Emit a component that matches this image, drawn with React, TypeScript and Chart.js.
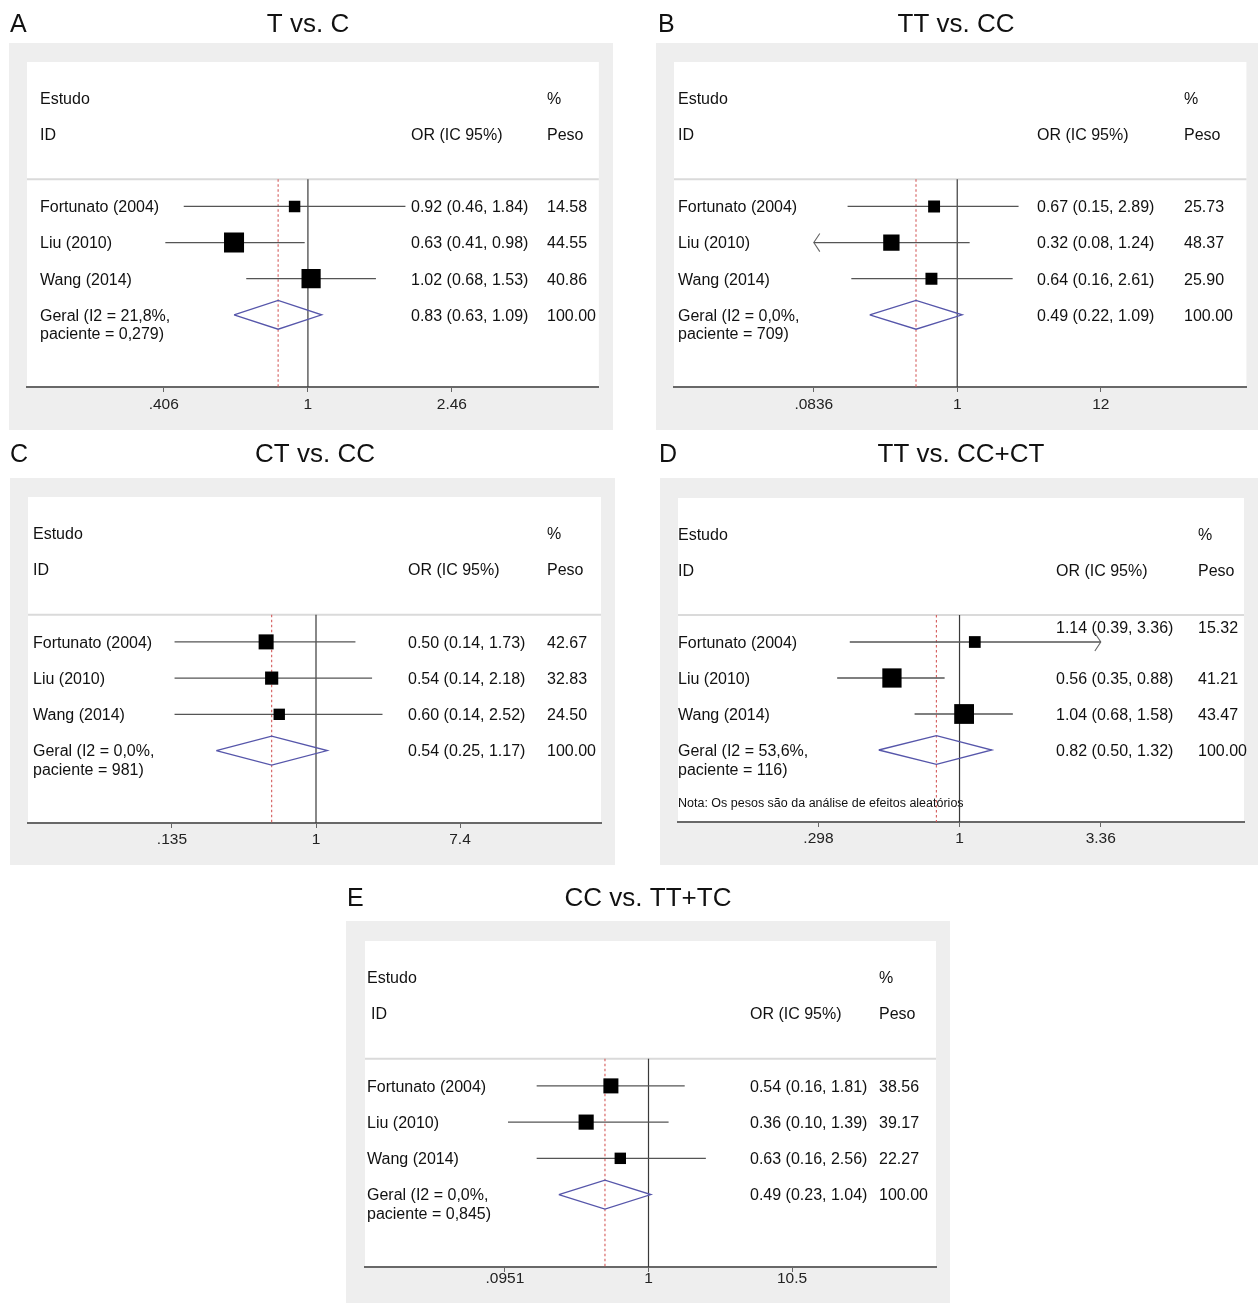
import React, { useEffect, useRef } from "react";
import { Chart, registerables } from "chart.js";

Chart.register(...registerables);

// ---------------- DATA ----------------
const STUDIES = ["Fortunato (2004)", "Liu (2010)", "Wang (2014)"];
const TOTAL_WEIGHT = 100;

// A: T vs. C
const A_OR = [0.92, 0.63, 1.02];
const A_LO = [0.46, 0.41, 0.68];
const A_HI = [1.84, 0.98, 1.53];
const A_WEIGHT = [14.58, 44.55, 40.86];
const A_POOLED = [0.83, 0.63, 1.09];
const A_HET = ["Geral (I2 = 21,8%,", "paciente = 0,279)"];
const A_TICKS = [0.406, 1, 2.46];
const A_TICK_LABELS = [".406", "1", "2.46"];

// B: TT vs. CC
const B_OR = [0.67, 0.32, 0.64];
const B_LO = [0.15, 0.08, 0.16];
const B_HI = [2.89, 1.24, 2.61];
const B_WEIGHT = [25.73, 48.37, 25.9];
const B_POOLED = [0.49, 0.22, 1.09];
const B_HET = ["Geral (I2 = 0,0%,", "paciente = 709)"];
const B_TICKS = [0.0836, 1, 12];
const B_TICK_LABELS = [".0836", "1", "12"];

// C: CT vs. CC
const C_OR = [0.5, 0.54, 0.6];
const C_LO = [0.14, 0.14, 0.14];
const C_HI = [1.73, 2.18, 2.52];
const C_WEIGHT = [42.67, 32.83, 24.5];
const C_POOLED = [0.54, 0.25, 1.17];
const C_HET = ["Geral (I2 = 0,0%,", "paciente = 981)"];
const C_TICKS = [0.135, 1, 7.4];
const C_TICK_LABELS = [".135", "1", "7.4"];

// D: TT vs. CC+CT
const D_OR = [1.14, 0.56, 1.04];
const D_LO = [0.39, 0.35, 0.68];
const D_HI = [3.36, 0.88, 1.58];
const D_WEIGHT = [15.32, 41.21, 43.47];
const D_POOLED = [0.82, 0.5, 1.32];
const D_HET = ["Geral (I2 = 53,6%,", "paciente = 116)"];
const D_TICKS = [0.298, 1, 3.36];
const D_TICK_LABELS = [".298", "1", "3.36"];
const D_NOTE = "Nota: Os pesos são da análise de efeitos aleatórios";

// E: CC vs. TT+TC
const E_OR = [0.54, 0.36, 0.63];
const E_LO = [0.16, 0.1, 0.16];
const E_HI = [1.81, 1.39, 2.56];
const E_WEIGHT = [38.56, 39.17, 22.27];
const E_POOLED = [0.49, 0.23, 1.04];
const E_HET = ["Geral (I2 = 0,0%,", "paciente = 0,845)"];
const E_TICKS = [0.0951, 1, 10.5];
const E_TICK_LABELS = [".0951", "1", "10.5"];

// ---------------- LAYOUT ----------------
const FONT = "'Liberation Sans', Arial, Helvetica, sans-serif";
const ROW_MIN = -3;
const ROW_MAX = 6;
const SEP_ROW = 0.25;
const HEAD1_ROW = -2;
const HEAD2_ROW = -1;
const GERAL_ROW = 4;
const GERAL2_ROW = 4.52;
const NOTE_ROW = 5.44;
const TEXT_DY = 1.5;

type Panel = {
  letter: string;
  title: string;
  or: number[];
  lo: number[];
  hi: number[];
  w: number[];
  pooled: number[];
  het: string[];
  ticks: number[];
  tickLabels: string[];
  note?: string;
  box: { left: number; top: number; width: number; height: number };
  greyTop: number;
  white: { left: number; right: number; top: number; bottom: number };
  onePx: number;
  hiPx: number;
  boxK: number;
  letterX: number;
  titleX: number;
  titleY: number;
  nameX: number;
  idX: number;
  orX: number;
  pesoX: number;
  tickPad: number;
  firstTextRow: number;
};

const PANELS: Panel[] = [
  {
    letter: "A", title: "T vs. C",
    or: A_OR, lo: A_LO, hi: A_HI, w: A_WEIGHT, pooled: A_POOLED, het: A_HET,
    ticks: A_TICKS, tickLabels: A_TICK_LABELS,
    box: { left: 9, top: 0, width: 604, height: 430 }, greyTop: 43,
    white: { left: 27, right: 599, top: 62, bottom: 387 },
    onePx: 308, hiPx: 452, boxK: 3.0,
    letterX: 10, titleX: 308, titleY: 25,
    nameX: 40, idX: 40, orX: 411, pesoX: 547, tickPad: 3, firstTextRow: 1,
  },
  {
    letter: "B", title: "TT vs. CC",
    or: B_OR, lo: B_LO, hi: B_HI, w: B_WEIGHT, pooled: B_POOLED, het: B_HET,
    ticks: B_TICKS, tickLabels: B_TICK_LABELS,
    box: { left: 656, top: 0, width: 602, height: 430 }, greyTop: 43,
    white: { left: 674, right: 1248, top: 62, bottom: 387 },
    onePx: 958, hiPx: 1102, boxK: 2.35,
    letterX: 658, titleX: 956, titleY: 25,
    nameX: 678, idX: 678, orX: 1037, pesoX: 1184, tickPad: 3, firstTextRow: 1,
  },
  {
    letter: "C", title: "CT vs. CC",
    or: C_OR, lo: C_LO, hi: C_HI, w: C_WEIGHT, pooled: C_POOLED, het: C_HET,
    ticks: C_TICKS, tickLabels: C_TICK_LABELS,
    box: { left: 10, top: 430, width: 605, height: 435 }, greyTop: 478,
    white: { left: 28, right: 601, top: 497, bottom: 823 },
    onePx: 316, hiPx: 460, boxK: 2.3,
    letterX: 10, titleX: 315, titleY: 455,
    nameX: 33, idX: 33, orX: 408, pesoX: 547, tickPad: 2, firstTextRow: 1,
  },
  {
    letter: "D", title: "TT vs. CC+CT",
    or: D_OR, lo: D_LO, hi: D_HI, w: D_WEIGHT, pooled: D_POOLED, het: D_HET,
    ticks: D_TICKS, tickLabels: D_TICK_LABELS, note: D_NOTE,
    box: { left: 660, top: 430, width: 598, height: 435 }, greyTop: 478,
    white: { left: 678, right: 1251, top: 498, bottom: 822 },
    onePx: 963, hiPx: 1106, boxK: 3.0,
    letterX: 659, titleX: 961, titleY: 455,
    nameX: 678, idX: 678, orX: 1056, pesoX: 1198, tickPad: 2, firstTextRow: 0.58,
  },
  {
    letter: "E", title: "CC vs. TT+TC",
    or: E_OR, lo: E_LO, hi: E_HI, w: E_WEIGHT, pooled: E_POOLED, het: E_HET,
    ticks: E_TICKS, tickLabels: E_TICK_LABELS,
    box: { left: 346, top: 870, width: 604, height: 433 }, greyTop: 921,
    white: { left: 365, right: 936, top: 941, bottom: 1267 },
    onePx: 648.5, hiPx: 792, boxK: 2.42,
    letterX: 347, titleX: 648, titleY: 899,
    nameX: 367, idX: 371, orX: 750, pesoX: 879, tickPad: -3, firstTextRow: 1,
  },
];

const fmt = (v: number) => v.toFixed(2);

function decorPlugin(p: Panel) {
  return {
    id: "decor" + p.letter,
    beforeDraw(chart: any) {
      const { ctx, chartArea: ca, width, height } = chart;
      const ys = chart.scales.y;
      const ox = p.box.left;
      const oy = p.box.top;
      ctx.save();
      // grey frame
      ctx.fillStyle = "#eeeeee";
      ctx.fillRect(0, p.greyTop - oy, width, height - (p.greyTop - oy));
      // white plot region
      ctx.fillStyle = "#ffffff";
      ctx.fillRect(ca.left, ca.top, ca.right - ca.left, ca.bottom - ca.top);
      // separator
      const sy = ys.getPixelForValue(SEP_ROW);
      ctx.strokeStyle = "#dadada";
      ctx.lineWidth = 2;
      ctx.beginPath();
      ctx.moveTo(ca.left, sy);
      ctx.lineTo(ca.right, sy);
      ctx.stroke();

      // panel letter and title
      ctx.fillStyle = "#111";
      ctx.textBaseline = "middle";
      ctx.font = `25px ${FONT}`;
      ctx.textAlign = "left";
      ctx.fillText(p.letter, p.letterX - ox, p.titleY - oy);
      ctx.font = `26px ${FONT}`;
      ctx.textAlign = "center";
      ctx.fillText(p.title, p.titleX - ox, p.titleY - oy);

      // text columns
      ctx.font = `16px ${FONT}`;
      ctx.textAlign = "left";
      const Y = (r: number) => ys.getPixelForValue(r) + TEXT_DY;
      ctx.fillText("Estudo", p.nameX - ox, Y(HEAD1_ROW));
      ctx.fillText("ID", p.idX - ox, Y(HEAD2_ROW));
      ctx.fillText("OR (IC 95%)", p.orX - ox, Y(HEAD2_ROW));
      ctx.fillText("%", p.pesoX - ox, Y(HEAD1_ROW));
      ctx.fillText("Peso", p.pesoX - ox, Y(HEAD2_ROW));
      STUDIES.forEach((s, i) => {
        const r = i + 1;
        const tr = i === 0 ? p.firstTextRow : r;
        ctx.fillText(s, p.nameX - ox, Y(r));
        ctx.fillText(`${fmt(p.or[i])} (${fmt(p.lo[i])}, ${fmt(p.hi[i])})`, p.orX - ox, Y(tr));
        ctx.fillText(fmt(p.w[i]), p.pesoX - ox, Y(tr));
      });
      ctx.fillText(p.het[0], p.nameX - ox, Y(GERAL_ROW));
      ctx.fillText(p.het[1], p.nameX - ox, Y(GERAL2_ROW));
      ctx.fillText(
        `${fmt(p.pooled[0])} (${fmt(p.pooled[1])}, ${fmt(p.pooled[2])})`,
        p.orX - ox,
        Y(GERAL_ROW)
      );
      ctx.fillText(fmt(TOTAL_WEIGHT), p.pesoX - ox, Y(GERAL_ROW));
      if (p.note) {
        ctx.font = `12.5px ${FONT}`;
        ctx.fillText(p.note, p.nameX - ox, Y(NOTE_ROW));
      }
      ctx.restore();
    },
  };
}

function buildConfig(p: Panel): any {
  const pxPerLn = (p.hiPx - p.onePx) / Math.log(p.ticks[2]);
  const xmin = Math.exp((p.white.left - p.onePx) / pxPerLn);
  const xmax = Math.exp((p.white.right - p.onePx) / pxPerLn);
  const axisH = p.box.top + p.box.height - p.white.bottom;
  const tickLo = p.ticks[0];
  const tickHi = p.ticks[2];
  const wingLn = 6 / pxPerLn;
  const wingRow = 0.25;
  const lineColor = "#555555";

  const datasets: any[] = [];
  datasets.push({
    label: "null",
    data: [{ x: 1, y: SEP_ROW }, { x: 1, y: ROW_MAX }],
    showLine: true, borderColor: "#3a3a3a", borderWidth: 1.2, pointRadius: 0, order: 6,
  });
  datasets.push({
    label: "pooled",
    data: [{ x: p.pooled[0], y: SEP_ROW }, { x: p.pooled[0], y: ROW_MAX }],
    showLine: true, borderColor: "#d45a5a", borderWidth: 1.1, borderDash: [2.5, 2.5],
    pointRadius: 0, order: 5,
  });
  p.or.forEach((_, i) => {
    const r = i + 1;
    const lo = Math.max(p.lo[i], tickLo);
    const hi = Math.min(p.hi[i], tickHi);
    datasets.push({
      label: "ci" + i,
      data: [{ x: lo, y: r }, { x: hi, y: r }],
      showLine: true, borderColor: lineColor, borderWidth: 1.3, pointRadius: 0, order: 3,
    });
    const arrows: { tip: number; dir: number }[] = [];
    if (p.lo[i] < tickLo) arrows.push({ tip: tickLo, dir: -1 });
    if (p.hi[i] >= tickHi) arrows.push({ tip: tickHi, dir: 1 });
    arrows.forEach((a, k) => {
      const back = a.tip * Math.exp(-a.dir * wingLn);
      datasets.push({
        label: "arrow" + i + "_" + k,
        data: [
          { x: back, y: r - wingRow },
          { x: a.tip, y: r },
          { x: back, y: r + wingRow },
        ],
        showLine: true, borderColor: "#666666", borderWidth: 1.1, pointRadius: 0, order: 3,
      });
    });
  });
  datasets.push({
    label: "studies",
    data: p.or.map((v, i) => ({ x: v, y: i + 1 })),
    showLine: false,
    pointStyle: "rect",
    pointRadius: p.w.map((w) => (p.boxK * Math.sqrt(w)) / Math.SQRT2),
    pointBackgroundColor: "#000000",
    pointBorderColor: "#000000",
    pointBorderWidth: 0,
    order: 1,
  });
  datasets.push({
    label: "overall",
    data: [
      { x: p.pooled[1], y: GERAL_ROW },
      { x: p.pooled[0], y: GERAL_ROW - 0.4 },
      { x: p.pooled[2], y: GERAL_ROW },
      { x: p.pooled[0], y: GERAL_ROW + 0.4 },
      { x: p.pooled[1], y: GERAL_ROW },
    ],
    showLine: true, fill: false, borderColor: "#5656aa", borderWidth: 1.3, pointRadius: 0, order: 2,
  });

  return {
    type: "scatter",
    data: { datasets },
    options: {
      animation: false,
      responsive: false,
      maintainAspectRatio: false,
      events: [],
      layout: {
        padding: {
          left: p.white.left - p.box.left,
          right: p.box.left + p.box.width - p.white.right,
          top: p.white.top - p.box.top,
          bottom: 0,
        },
      },
      plugins: {
        legend: { display: false },
        tooltip: { enabled: false },
        title: { display: false },
      },
      elements: { line: { tension: 0 } },
      scales: {
        x: {
          type: "logarithmic",
          position: "bottom",
          min: xmin,
          max: xmax,
          bounds: "data",
          afterBuildTicks: (s: any) => {
            s.ticks = p.ticks.map((v) => ({ value: v }));
          },
          afterFit: (s: any) => {
            s.height = axisH;
          },
          ticks: {
            autoSkip: false,
            maxRotation: 0,
            minRotation: 0,
            padding: p.tickPad,
            color: "#222222",
            font: { family: FONT, size: 15.5 },
            callback: (_v: any, i: number) => p.tickLabels[i],
          },
          grid: {
            display: true,
            drawOnChartArea: false,
            drawTicks: true,
            tickLength: 5,
            color: "#666666",
            lineWidth: 1,
          },
          border: { display: true, color: "#686868", width: 2 },
        },
        y: {
          type: "linear",
          min: ROW_MIN,
          max: ROW_MAX,
          reverse: true,
          display: false,
        },
      },
    },
    plugins: [decorPlugin(p)],
  };
}

function ForestPanel({ p }: { p: Panel }) {
  const ref = useRef<HTMLCanvasElement | null>(null);
  useEffect(() => {
    if (!ref.current) return;
    const chart = new Chart(ref.current, buildConfig(p));
    return () => chart.destroy();
  }, [p]);
  return (
    <canvas
      ref={ref}
      width={p.box.width}
      height={p.box.height}
      style={{
        position: "absolute",
        left: p.box.left,
        top: p.box.top,
        width: p.box.width,
        height: p.box.height,
      }}
    />
  );
}

export default function App() {
  return (
    <div
      style={{
        position: "absolute",
        left: 0,
        top: 0,
        width: 1258,
        height: 1303,
        background: "#ffffff",
        overflow: "hidden",
      }}
    >
      {PANELS.map((p) => (
        <ForestPanel key={p.letter} p={p} />
      ))}
    </div>
  );
}
